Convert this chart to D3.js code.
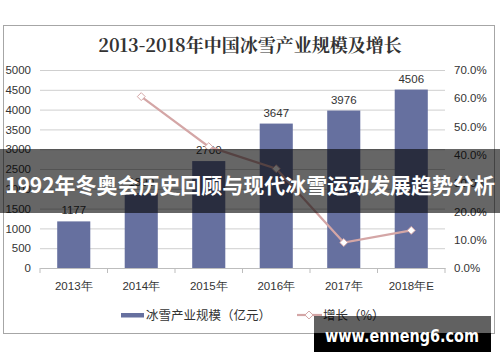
<!DOCTYPE html>
<html><head><meta charset="utf-8">
<script src="https://cdn.jsdelivr.net/npm/d3@7"></script>
<style>
html,body{margin:0;padding:0;background:#fff;}
svg{display:block;font-family:"Liberation Sans","Noto Sans CJK SC",sans-serif;}
</style></head>
<body>
<svg id="c" width="500" height="362"></svg>
<script>
const categories = ["2013年","2014年","2015年","2016年","2017年","2018年E"];
const scaleValues = [1177, 1890, 2700, 3647, 3976, 4506];
const growthValues = [null, 60.6, 42.9, 35.1, 9.0, 13.3];
const leftTicks = [0,500,1000,1500,2000,2500,3000,3500,4000,4500,5000];
const rightTicks = [0,10,20,30,40,50,60,70];
const title = "2013-2018年中国冰雪产业规模及增长";
const legendBar = "冰雪产业规模（亿元）";
const legendLine = "增长（%）";
const bannerText = "1992年冬奥会历史回顾与现代冰雪运动发展趋势分析";
const watermark = "www.enneng6.com";

const svg = d3.select("#c");
const barColor = "#66709f", lineColor = "#d4a6a6", gridColor = "#cfcfcf", textColor = "#333";

// frame
svg.append("rect").attr("x",3.5).attr("y",25.5).attr("width",491).attr("height",308)
  .attr("fill","#fff").attr("stroke","#a6a6a6").attr("stroke-width",1);

svg.append("text").attr("x",250).attr("y",52).attr("text-anchor","middle")
  .attr("font-size",18).attr("font-weight","bold").attr("fill","#333")
  .attr("font-family","'Noto Serif CJK SC','Liberation Serif','Noto Sans CJK SC',serif")
  .text(title);

const x = d3.scaleBand().domain(categories).range([40,445]).paddingInner(0.51).paddingOuter(0.255);
const yL = d3.scaleLinear().domain([0,5000]).range([268,70]);
const yR = d3.scaleLinear().domain([0,70]).range([268,70]);

// grid + left axis
const gL = svg.append("g").attr("transform","translate(40,0)")
  .call(d3.axisLeft(yL).tickValues(leftTicks).tickSize(-405).tickPadding(9).tickFormat(d3.format("d")));
gL.select(".domain").remove();
gL.selectAll(".tick line").attr("stroke",gridColor);
gL.selectAll(".tick text").attr("font-size",11.5).attr("fill",textColor).attr("font-family","'Liberation Sans',sans-serif");

// right axis
const gR = svg.append("g").attr("transform","translate(445,0)")
  .call(d3.axisRight(yR).tickValues(rightTicks).tickSize(0).tickPadding(9).tickFormat(d=>d.toFixed(1)+"%"));
gR.select(".domain").remove();
gR.selectAll(".tick text").attr("font-size",11.5).attr("fill",textColor).attr("font-family","'Liberation Sans',sans-serif");

// bars
svg.append("g").selectAll("rect").data(categories).join("rect")
  .attr("x",d=>x(d)).attr("width",x.bandwidth())
  .attr("y",(d,i)=>yL(scaleValues[i])).attr("height",(d,i)=>yL(0)-yL(scaleValues[i]))
  .attr("fill",barColor);
svg.append("g").selectAll("text").data(categories).join("text")
  .attr("x",d=>x(d)+x.bandwidth()/2).attr("y",(d,i)=>yL(scaleValues[i])-7)
  .attr("text-anchor","middle").attr("font-size",11.5).attr("fill",textColor)
  .text((d,i)=>scaleValues[i]);

// x axis
const gX = svg.append("g").attr("transform","translate(0,268)")
  .call(d3.axisBottom(x).tickSize(0).tickPadding(14));
gX.select(".domain").attr("stroke","#bdbdbd");
gX.selectAll(".tick text").attr("font-size",11.5).attr("fill",textColor);
const bounds = [...categories.map(c=>x(c)-x.step()*x.paddingInner()/2), 445];
gX.selectAll("line.bt").data(bounds).join("line").attr("class","bt")
  .attr("x1",d=>d).attr("x2",d=>d).attr("y1",0).attr("y2",5).attr("stroke","#bdbdbd");

// growth line
const pts = categories.map((c,i)=>({c,v:growthValues[i]})).filter(p=>p.v!==null);
svg.append("path").datum(pts)
  .attr("d",d3.line().x(p=>x(p.c)+x.bandwidth()/2).y(p=>yR(p.v)))
  .attr("fill","none").attr("stroke",lineColor).attr("stroke-width",2.2);
const diamond = d3.symbol().type(d3.symbolDiamond2).size(40);
svg.append("g").selectAll("path").data(pts).join("path")
  .attr("transform",p=>`translate(${x(p.c)+x.bandwidth()/2},${yR(p.v)})`)
  .attr("d",diamond).attr("fill","#fff").attr("stroke",lineColor).attr("stroke-width",1);

// legend
const lg = svg.append("g");
lg.append("rect").attr("x",121).attr("y",313).attr("width",23).attr("height",4.5).attr("fill",barColor);
lg.append("text").attr("x",146).attr("y",320).attr("font-size",12.5).attr("fill",textColor)
  .attr("font-family","'Noto Sans CJK SC',sans-serif").text(legendBar);
lg.append("line").attr("x1",297).attr("x2",322).attr("y1",315).attr("y2",315).attr("stroke",lineColor).attr("stroke-width",2.2);
lg.append("path").attr("transform","translate(309,315)").attr("d",diamond).attr("fill","#fff").attr("stroke",lineColor);
lg.append("text").attr("x",323).attr("y",320).attr("font-size",12.5).attr("fill",textColor)
  .attr("font-family","'Noto Sans CJK SC',sans-serif").text(legendLine);

// banner overlay
svg.append("rect").attr("x",0).attr("y",149).attr("width",500).attr("height",64).attr("fill","rgba(0,0,0,0.6)");
svg.append("text").attr("x",5).attr("y",193).attr("font-size",21).attr("font-weight","bold").attr("fill","#fff")
  .attr("font-family","'Noto Sans CJK SC',sans-serif")
  .attr("textLength",490).attr("lengthAdjust","spacingAndGlyphs").text(bannerText);

// watermark
svg.append("rect").attr("x",314).attr("y",316).attr("width",177).attr("height",17).attr("fill","rgba(0,0,0,0.62)");
svg.append("rect").attr("x",314).attr("y",333).attr("width",177).attr("height",19).attr("fill","#000");
svg.append("text").attr("x",325).attr("y",342).attr("font-size",18).attr("font-weight","bold").attr("fill","#fff")
  .attr("font-family","'DejaVu Sans',sans-serif")
  .attr("textLength",154).attr("lengthAdjust","spacingAndGlyphs").text(watermark);
</script>
</body></html>
